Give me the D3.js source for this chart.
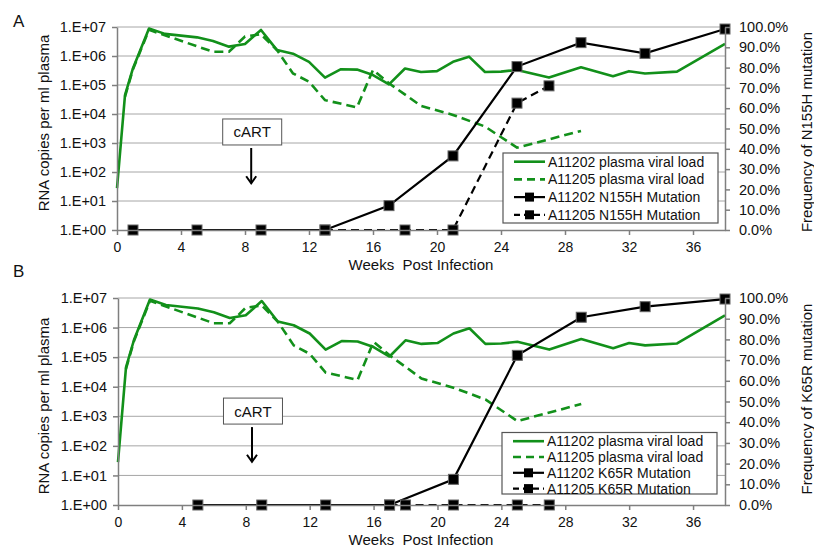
<!DOCTYPE html>
<html>
<head>
<meta charset="utf-8">
<script src="https://cdn.jsdelivr.net/npm/d3@7"></script>
<style>
  body { margin: 0; background: #fff; }
  svg { display: block; font-family: "Liberation Sans", Arial, sans-serif; }
  .grid { stroke: #a6a6a6; stroke-width: 1; }
  .axis path, .axis line { stroke: #7f7f7f; stroke-width: 1.5; }
  .axis text { fill: #111; font-size: 14.5px; font-family: "Liberation Sans", Arial, sans-serif; }
  .xaxis text { font-size: 14px; }
</style>
</head>
<body>
<svg width="814" height="549"></svg>
<script>
// plasma viral load (copies/ml), same patients in both panels
const vlWeeks202 = [0, 0.5, 1, 2, 3, 5, 6, 7, 8, 9, 10, 11, 12, 13, 14, 15, 16, 17, 18, 19, 20, 21, 22, 23, 24, 25, 27, 29, 31, 32, 33, 35, 38];
const vl202 = [28, 45000, 380000, 8.9e6, 5.8e6, 4.4e6, 3.3e6, 2.1e6, 2.6e6, 7.9e6, 1.6e6, 1.2e6, 6.3e5, 1.8e5, 3.5e5, 3.4e5, 2.2e5, 1.05e5, 3.7e5, 2.8e5, 3.0e5, 6.3e5, 9.5e5, 2.8e5, 2.9e5, 3.3e5, 1.8e5, 4.1e5, 2.0e5, 3.0e5, 2.5e5, 2.9e5, 2.6e6];
const vlWeeks205 = [0.5, 1, 2, 6, 7, 8, 9, 10, 11, 12, 13, 15, 16, 17, 19, 21, 23, 25, 29];
const vl205 = [40000, 3.5e5, 8e6, 1.4e6, 1.4e6, 4.7e6, 5.6e6, 1.6e6, 2.5e5, 1.3e5, 3.0e4, 1.7e4, 3.3e5, 1.15e5, 1.9e4, 9.3e3, 3.7e3, 6.9e2, 2.6e3];

// mutation frequency (%)
const n155Weeks202 = [1, 5, 9, 13, 17, 21, 25, 29, 33, 38];
const n155Freq202 = [0, 0, 0, 0, 12, 36.5, 80.5, 92.3, 87, 99];
const n155Weeks205 = [13, 18, 21, 25, 27];
const n155Freq205 = [0, 0, 0, 62.5, 71];
const k65Weeks202 = [5, 9, 13, 17, 21, 25, 29, 33, 38];
const k65Freq202 = [0, 0, 0, 0, 12.4, 72.3, 90.7, 95.8, 99.5];
const k65Weeks205 = [17, 18, 21, 25, 27];
const k65Freq205 = [0, 0, 0, 0, 0];

const xTicks = [0, 4, 8, 12, 16, 20, 24, 28, 32, 36];
const logTicks = [1, 10, 100, 1e3, 1e4, 1e5, 1e6, 1e7];
const pctTicks = [0, 10, 20, 30, 40, 50, 60, 70, 80, 90, 100];

const green = "#12901a";
const svg = d3.select("svg");

const panels = [
  { label: "A", labelY: 27, left: 117, right: 725, top: 27, bottom: 230, mut: "N155H",
    w202: n155Weeks202, f202: n155Freq202, w205: n155Weeks205, f205: n155Freq205,
    cartVal: 2400, arrowTip: 41, leg: { x: 503, y: 153, w: 215, h: 70, row: 17.7 },
    leftTitleY: 123, rightTitleY: 132 },
  { label: "B", labelY: 277, left: 118, right: 725, top: 298, bottom: 505, mut: "K65R",
    w202: k65Weeks202, f202: k65Freq202, w205: k65Weeks205, f205: k65Freq205,
    cartVal: 1500, arrowTip: 29, leg: { x: 502, y: 432.5, w: 215, h: 61.5, row: 15.8 },
    leftTitleY: 406, rightTitleY: 399 }
];

function zip(xs, ys) { return xs.map((d, i) => [d, ys[i]]); }

function drawPanel(p) {
  const g = svg.append("g");
  const x = d3.scaleLinear().domain([0, 38]).range([p.left, p.right]);
  const y = d3.scaleLog().domain([1, 1e7]).range([p.bottom, p.top]);
  const yp = d3.scaleLinear().domain([0, 100]).range([p.bottom, p.top]);

  g.selectAll(".grid").data(logTicks.slice(1)).enter()
    .append("line").attr("class", "grid")
    .attr("x1", p.left).attr("x2", p.right)
    .attr("y1", d => y(d)).attr("y2", d => y(d));

  const vline = d3.line().x(d => x(d[0])).y(d => y(d[1]));
  g.append("path").datum(zip(vlWeeks202, vl202))
    .attr("d", vline).attr("fill", "none").attr("stroke", green)
    .attr("stroke-width", 2.6).attr("stroke-linejoin", "round");
  g.append("path").datum(zip(vlWeeks205, vl205))
    .attr("d", vline).attr("fill", "none").attr("stroke", green)
    .attr("stroke-width", 2.6).attr("stroke-dasharray", "9,5");

  const mline = d3.line().x(d => x(d[0])).y(d => yp(d[1]));
  const m205 = zip(p.w205, p.f205);
  const m202 = zip(p.w202, p.f202);
  g.append("path").datum(m205).attr("d", mline).attr("fill", "none")
    .attr("stroke", "#000").attr("stroke-width", 2.2).attr("stroke-dasharray", "8,5");
  g.append("path").datum(m202).attr("d", mline).attr("fill", "none")
    .attr("stroke", "#000").attr("stroke-width", 2.2);
  g.selectAll(".sq").data(m205.concat(m202)).enter()
    .append("rect").attr("class", "sq")
    .attr("x", d => x(d[0]) - 5).attr("y", d => yp(d[1]) - 5)
    .attr("width", 10).attr("height", 10)
    .attr("fill", "#000").attr("stroke", "#666").attr("stroke-width", 1);

  // cART annotation
  const cx = x(8.45), cy = y(p.cartVal);
  g.append("rect").attr("x", cx - 29.5).attr("y", cy - 13).attr("width", 59).attr("height", 26)
    .attr("fill", "#fff").attr("stroke", "#555").attr("stroke-width", 1);
  g.append("text").attr("x", cx).attr("y", cy + 5.5).attr("text-anchor", "middle")
    .attr("font-size", 15).attr("fill", "#111").text("cART");
  const tip = y(p.arrowTip);
  g.append("line").attr("x1", cx - 1).attr("x2", cx - 1).attr("y1", cy + 16).attr("y2", tip)
    .attr("stroke", "#000").attr("stroke-width", 2);
  g.append("path").attr("d", `M${cx - 6},${tip - 7}L${cx - 1},${tip}L${cx + 4},${tip - 7}`)
    .attr("fill", "none").attr("stroke", "#000").attr("stroke-width", 2);

  // axes
  g.append("g").attr("class", "axis").attr("transform", `translate(${p.left},0)`)
    .call(d3.axisLeft(y).tickValues(logTicks).tickSize(5).tickSizeOuter(0).tickPadding(6)
      .tickFormat(d => "1.E+" + String(Math.round(Math.log10(d))).padStart(2, "0")));
  g.append("g").attr("class", "axis").attr("transform", `translate(${p.right},0)`)
    .call(d3.axisRight(yp).tickValues(pctTicks).tickSize(5).tickSizeOuter(0).tickPadding(9)
      .tickFormat(d => d.toFixed(1) + "%"));
  g.append("g").attr("class", "axis xaxis").attr("transform", `translate(0,${p.bottom})`)
    .call(d3.axisBottom(x).tickValues(xTicks).tickSize(5).tickSizeOuter(0).tickPadding(7));

  // legend
  const L = p.leg;
  const lg = g.append("g");
  lg.append("rect").attr("x", L.x).attr("y", L.y).attr("width", L.w).attr("height", L.h)
    .attr("fill", "#fff").attr("stroke", "#555").attr("stroke-width", 1.2);
  const items = [
    { t: "A11202 plasma viral load", c: green, dash: null, mk: false },
    { t: "A11205 plasma viral load", c: green, dash: "8,5", mk: false },
    { t: "A11202 " + p.mut + " Mutation", c: "#000", dash: null, mk: true },
    { t: "A11205 " + p.mut + " Mutation", c: "#000", dash: "6,4", mk: true }
  ];
  items.forEach((it, i) => {
    const ry = L.y + 8.7 + L.row * i;
    lg.append("line").attr("x1", L.x + 11).attr("x2", L.x + 42).attr("y1", ry).attr("y2", ry)
      .attr("stroke", it.c).attr("stroke-width", it.mk ? 2.2 : 2.6)
      .attr("stroke-dasharray", it.dash);
    if (it.mk) {
      lg.append("rect").attr("x", L.x + 22).attr("y", ry - 4.5).attr("width", 9).attr("height", 9)
        .attr("fill", "#000");
    }
    lg.append("text").attr("x", L.x + 45).attr("y", ry + 5).attr("font-size", 14)
      .attr("fill", "#111").text(it.t);
  });

  // titles
  g.append("text").attr("x", 13).attr("y", p.labelY).attr("font-size", 17).attr("fill", "#111").text(p.label);
  g.append("text").attr("transform", `translate(49,${p.leftTitleY}) rotate(-90)`)
    .attr("text-anchor", "middle").attr("font-size", 15).attr("fill", "#111")
    .text("RNA copies per ml plasma");
  g.append("text").attr("transform", `translate(812,${p.rightTitleY}) rotate(-90)`)
    .attr("text-anchor", "middle").attr("font-size", 15).attr("fill", "#111")
    .text("Frequency of " + p.mut + " mutation");
  g.append("text").attr("x", 421).attr("y", p.bottom + 40).attr("text-anchor", "middle")
    .attr("font-size", 15).attr("fill", "#111").style("white-space", "pre")
    .text("Weeks  Post Infection");
}

panels.forEach(drawPanel);
</script>
</body>
</html>
